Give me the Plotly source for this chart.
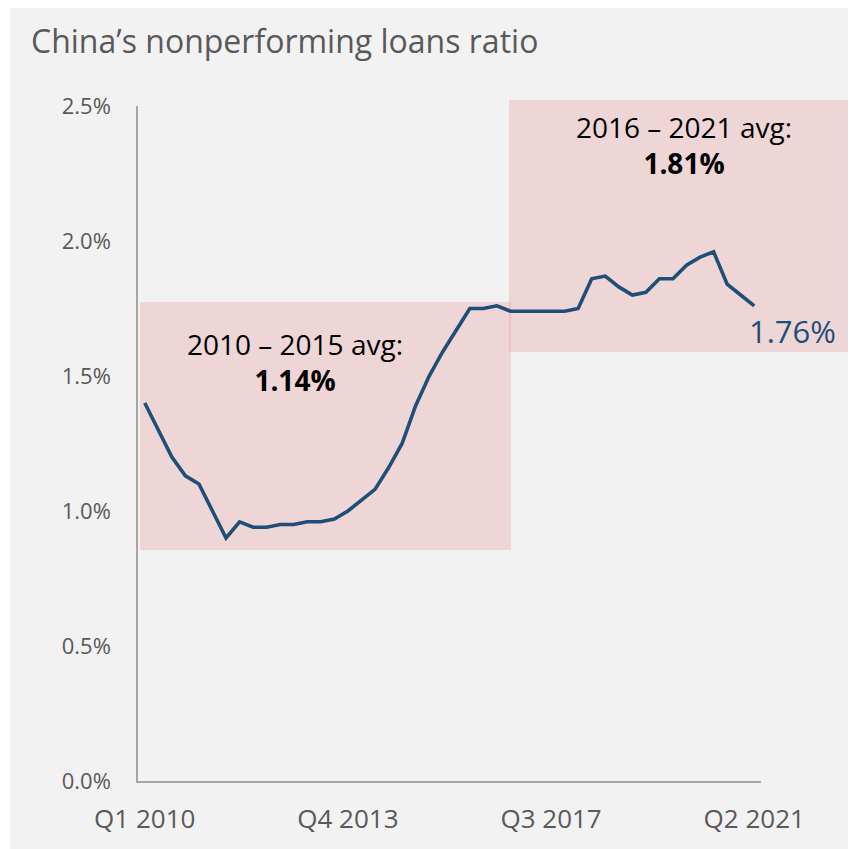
import plotly.graph_objects as go

# ---- data ----
quarters = [f"Q{q} {y}" for y in range(2010, 2022) for q in range(1, 5)][:46]
npl_ratio = [1.40, 1.30, 1.20, 1.13, 1.10, 1.00, 0.90, 0.96,
             0.94, 0.94, 0.95, 0.95, 0.96, 0.96, 0.97, 1.00,
             1.04, 1.08, 1.16, 1.25, 1.39, 1.50, 1.59, 1.67,
             1.75, 1.75, 1.76, 1.74, 1.74, 1.74, 1.74, 1.74,
             1.75, 1.86, 1.87, 1.83, 1.80, 1.81, 1.86, 1.86,
             1.91, 1.94, 1.96, 1.84, 1.80, 1.76]
x_tick_labels = ["Q1 2010", "Q4 2013", "Q3 2017", "Q2 2021"]
y_tick_vals = [0.0, 0.5, 1.0, 1.5, 2.0, 2.5]
y_tick_text = ["0.0%", "0.5%", "1.0%", "1.5%", "2.0%", "2.5%"]
period_labels = ["2010 – 2015 avg:", "2016 – 2021 avg:"]
period_avgs = ["1.14%", "1.81%"]
last_label = "1.76%"

W, H = 856, 849
OFF = 8  # page body margin
# plot area in screenshot pixels: x 138..761, y 106..781
L = 138 - OFF
T = 106 - OFF
R = W - (761 - OFF)
B = H - (781 - OFF)
pw, ph = W - L - R, H - T - B
x_range = [-0.5, 45.5]
y_range = [0, 2.5]

def px2paper_x(px):
    return (px - OFF - L) / pw

def px2paper_y(py):
    return (H - B - (py - OFF)) / ph

FONT = "Open Sans"
GREY = "#595959"
BLUE = "#1f4e79"
PINK = "rgba(232,150,150,0.30)"

idx = list(range(len(quarters)))
fig = go.Figure()
fig.add_trace(go.Scatter(x=idx, y=npl_ratio, mode="lines",
                         line=dict(color=BLUE, width=3.6),
                         hoverinfo="skip", showlegend=False, cliponaxis=False))

tick_idx = [quarters.index(t) for t in x_tick_labels]

shapes = [
    # thin white strip at left edge
    dict(type="rect", xref="paper", yref="paper", layer="below",
         x0=px2paper_x(0), x1=px2paper_x(10), y0=px2paper_y(H + 20), y1=px2paper_y(0),
         fillcolor="#ffffff", line=dict(width=0)),
    dict(type="rect", xref="paper", yref="paper", layer="below",
         x0=px2paper_x(140), x1=px2paper_x(511), y0=px2paper_y(550), y1=px2paper_y(302),
         fillcolor=PINK, line=dict(width=0)),
    dict(type="rect", xref="paper", yref="paper", layer="below",
         x0=px2paper_x(509), x1=px2paper_x(853), y0=px2paper_y(352), y1=px2paper_y(100),
         fillcolor=PINK, line=dict(width=0)),
]

annotations = [
    dict(text="China’s nonperforming loans ratio", xref="paper", yref="paper",
         x=px2paper_x(29), y=px2paper_y(40), xanchor="left", yanchor="middle",
         showarrow=False, font=dict(family=FONT, size=32, color=GREY)),
    dict(text=f"{period_labels[0]}<br><b>{period_avgs[0]}</b>", xref="paper", yref="paper",
         x=px2paper_x(295), y=px2paper_y(362), xanchor="center", yanchor="middle",
         showarrow=False, font=dict(family=FONT, size=28, color="#000000")),
    dict(text=f"{period_labels[1]}<br><b>{period_avgs[1]}</b>", xref="paper", yref="paper",
         x=px2paper_x(684), y=px2paper_y(145), xanchor="center", yanchor="middle",
         showarrow=False, font=dict(family=FONT, size=28, color="#000000")),
    dict(text=last_label, xref="paper", yref="paper",
         x=px2paper_x(747), y=px2paper_y(331), xanchor="left", yanchor="middle",
         showarrow=False, font=dict(family=FONT, size=31, color=BLUE)),
]

fig.update_layout(
    width=W, height=H,
    margin=dict(l=L, r=R, t=T, b=B, pad=0),
    paper_bgcolor="#f2f2f2", plot_bgcolor="rgba(0,0,0,0)",
    shapes=shapes, annotations=annotations,
    font=dict(family=FONT, color=GREY),
    xaxis=dict(range=x_range, showgrid=False, zeroline=False,
               showline=True, linecolor="#a6a6a6", linewidth=1.5,
               tickvals=tick_idx, ticktext=x_tick_labels, ticks="",
               tickfont=dict(family=FONT, size=26, color=GREY),
               ticklabelstandoff=14, fixedrange=True),
    yaxis=dict(range=y_range, showgrid=False, zeroline=False,
               showline=True, linecolor="#a6a6a6", linewidth=1.5,
               tickvals=y_tick_vals, ticktext=y_tick_text, ticks="",
               tickfont=dict(family=FONT, size=22, color=GREY),
               ticklabelstandoff=21, fixedrange=True),
)

fig.write_html("out.html")
